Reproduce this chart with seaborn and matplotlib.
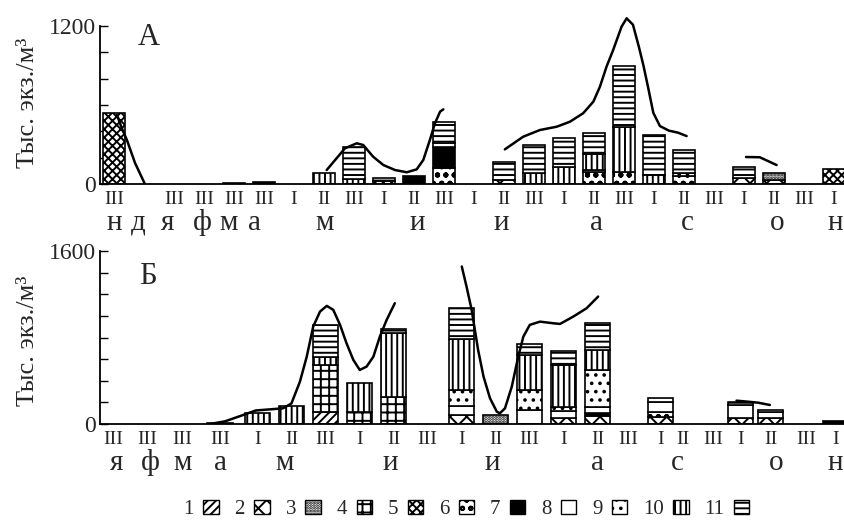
import matplotlib
matplotlib.use('Agg')
import matplotlib.pyplot as plt
import matplotlib.patches as mpatches
import seaborn as sns

# legend groups 1..11: hatch and face colour
group_ids = ['1', '2', '3', '4', '5', '6', '7', '8', '9', '10', '11']
group_hatch = ['////', 'xx', '......', '++', 'xxxx', 'oo', '', '', '..', '|||', '---']
group_face = ['white'] * 6 + ['black'] + ['white'] * 4

# ---- panel A ----
a_tick_pos = [0] + list(range(2, 25))
a_tick_lab = ['III'] * 5 + ['I', 'II', 'III'] * 6 + ['I']
a_month_pos = [0, 0.8, 1.8, 2.93, 3.83, 4.67, 7.03, 10.1, 12.9, 16.1, 19.1, 22.1, 24.05]
a_month_lab = ['н', 'д', 'я', 'ф', 'м', 'а', 'м', 'и', 'и', 'а', 'с', 'о', 'н']
a_bar_pos = [0, 4, 5, 7, 8, 9, 10, 11, 13, 14, 15, 16, 17, 18, 19, 21, 22, 24]
#            1   2   3  4    5    6    7  8   9   10   11
a_stacks = [[0,  0,  0, 0, 539,   0,   0, 0,  0,   0,   0],
            [0,  0,  0, 0,   0,   0,   8, 0,  0,   0,   0],
            [0,  0,  0, 0,   0,   0,  15, 0,  0,   0,   0],
            [0,  0,  0, 0,   0,   0,   0, 0,  0,  84,   0],
            [0,  0,  0, 0,   0,   0,   0, 0,  0,  40, 241],
            [0,  0,  0, 0,   0,   0,   0, 0, 20,   0,  25],
            [0,  0,  0, 0,   0,   0,  61, 0,  0,   0,   0],
            [0,  0,  0, 0,   0, 121, 159, 0, 30,   0, 161],
            [0, 30,  0, 0,   0,   0,   0, 0,  0,   0, 137],
            [0,  0,  0, 0,   0,   0,   0, 0,  0,  80, 216],
            [0,  0,  0, 0,   0,   0,   0, 0,  0, 130, 219],
            [0,  0,  0, 0,   0,  90,   0, 0, 20, 120, 157],
            [0,  0,  0, 0,   0,  91,   0, 0,  0, 342, 463],
            [0,  0,  0, 0,   0,   0,   0, 0,  0,  70, 302],
            [0,  0,  0, 0,   0,  60,   0, 0, 20,   0, 178],
            [0, 45,  0, 0,   0,   0,   0, 0,  0,   0,  84],
            [0, 30, 54, 0,   0,   0,   0, 0,  0,   0,   0],
            [0,  0,  0, 0, 114,   0,   0, 0,  0,   0,   0]]
a_curve_x = [[0.1, 0.25, 0.43, 0.7, 1.03],
             [7.09, 7.7, 8.09, 8.31, 8.64, 8.98, 9.37, 9.76, 10.09, 10.31, 10.53, 10.7, 10.87, 10.98],
             [13.03, 13.64, 14.2, 14.76, 15.2, 15.64, 15.98, 16.2, 16.42, 16.64, 16.92, 17.09,
              17.3, 17.5, 17.65, 17.8, 17.98, 18.2, 18.5, 18.8, 19.09],
             [21.07, 21.53, 22.09]]
a_curve_y = [[524, 430, 334, 160, 0],
             [106, 271, 309, 296, 207, 144, 106, 89, 111, 182, 334, 461, 549, 567],
             [263, 359, 410, 435, 473, 537, 625, 739, 891, 1017, 1194, 1258,
              1210, 1040, 900, 740, 540, 440, 405, 390, 364],
             [205, 203, 144]]

# ---- panel Б ----
b_tick_pos = [0, 1, 2.05, 3.15, 4.25, 5.25, 6.25, 7.25, 8.25, 9.25, 10.25, 11.25, 12.25,
              13.25, 14.25, 15.15, 16.1, 16.75, 17.65, 18.45, 19.35, 20.4, 21.25]
b_tick_lab = ['III'] * 4 + ['I', 'II', 'III'] * 6 + ['I']
b_month_pos = [0.1, 1.09, 2.06, 3.15, 5.06, 8.15, 11.15, 14.26, 16.6, 19.5, 21.24]
b_month_lab = ['я', 'ф', 'м', 'а', 'м', 'и', 'и', 'а', 'с', 'о', 'н']
b_bar_tick = [3, 4, 5, 6, 7, 8, 10, 11, 12, 13, 14, 16, 19, 20, 22]
#            1   2   3    4  5   6   7    8    9   10   11
b_stacks = [[0,  0,  0,   0, 0,  0, 12,   0,   0,   0,   0],
            [0,  0,  0,   0, 0,  0,  0,   0,   0, 100,   0],
            [0,  0,  0,   0, 0,  0,  0,   0,   0, 167,   0],
            [111, 0, 0, 435, 0,  0,  0,   0,   0,  74, 297],
            [0,  0,  0, 111, 0,  0,  0,   0,   0, 269,   0],
            [0,  0,  0, 250, 0,  0,  0,   0,   0, 593,  37],
            [0, 83,  0,   0, 0,  0,  0,  84, 148, 472, 287],
            [0,  0, 83,   0, 0,  0,  0,   0,   0,   0,   0],
            [0,  0,  0,   0, 0,  0,  0, 130, 185, 324, 101],
            [0, 55,  0,   0, 0,  0,  0,  62,  40, 389, 130],
            [0, 70,  0,   0, 0,  0, 30,  55, 345, 185, 248],
            [0, 65,  0,   0, 0, 46,  0,  93,   0,   0,  37],
            [0, 60,  0,   0, 0,  0,  0, 115,   0,   0,  30],
            [0, 60,  0,   0, 0,  0,  0,  55,   0,   0,  15],
            [0,  0,  0,   0, 0,  0, 28,   0,   0,   0,   0]]
b_curve_x = [[2.85, 3.3, 3.8, 4.2, 4.6, 5.0, 5.25, 5.5, 5.7, 5.89, 6.09, 6.29, 6.48, 6.68,
              6.87, 7.07, 7.26, 7.46, 7.66, 7.85, 8.05, 8.29],
             [10.26, 10.4, 10.55, 10.74, 10.9, 11.09, 11.29, 11.38, 11.53, 11.73, 11.92,
              12.07, 12.26, 12.56, 12.95, 13.15, 13.54, 13.93, 14.27],
             [18.34, 18.69, 18.98, 19.32]]
b_curve_y = [[0, 25, 80, 125, 135, 145, 190, 392, 623, 901, 1040, 1093, 1056, 917,
              747, 593, 500, 531, 623, 808, 963, 1117],
             [1457, 1271, 1056, 685, 438, 238, 114, 99, 145, 345, 623,
              808, 917, 947, 932, 926, 994, 1071, 1179],
             [216, 206, 197, 176]]

ylabel = 'Тыс. экз./м³'

sns.set_theme(style='ticks')
plt.rcParams['font.family'] = ['Liberation Serif', 'DejaVu Serif']
plt.rcParams['hatch.linewidth'] = 1.4
plt.rcParams['hatch.color'] = 'black'


def draw_panel(ax, bar_x, stacks, curve_x, curve_y, ticks, tick_lab, months, month_lab,
               ymax, ylim, xlim, letter, letter_xy):
    for x, row in zip(bar_x, stacks):
        bottom = 0
        for k, v in enumerate(row):
            if v == 0:
                continue
            ax.bar(x, v, width=0.74, bottom=bottom, color=group_face[k],
                   hatch=group_hatch[k], edgecolor='black', linewidth=1.2, zorder=2)
            bottom += v
    for cx, cy in zip(curve_x, curve_y):
        sns.lineplot(x=cx, y=cy, ax=ax, color='black', linewidth=1.8,
                     sort=False, estimator=None, zorder=3)
    ax.set_xlim(*xlim)
    ax.set_ylim(0, ylim)
    ax.set_xticks(ticks, tick_lab)
    ax.tick_params(axis='x', length=0, pad=5, labelsize=14)
    yt = list(range(0, ymax + 1, 200))
    ax.set_yticks(yt, ['0'] + [''] * (len(yt) - 2) + [str(ymax)])
    ax.tick_params(axis='y', direction='in', length=6, width=1, pad=3, labelsize=17,
                   color='black')
    sns.despine(ax=ax)
    ax.spines['left'].set_bounds(0, ymax)
    for sp in ('left', 'bottom'):
        ax.spines[sp].set_color('black')
        ax.spines[sp].set_linewidth(1.3)
    for m, lab in zip(months, month_lab):
        ax.annotate(lab, xy=(m, 0), xycoords=('data', 'axes fraction'),
                    xytext=(0, -33), textcoords='offset points',
                    ha='center', va='baseline', fontsize=21)
    ax.set_ylabel(ylabel, fontsize=19)
    ax.yaxis.set_label_coords(-0.082, 0.48)
    ax.text(letter_xy[0], letter_xy[1], letter, transform=ax.transAxes,
            fontsize=22, ha='center', va='center')
    ax.set_facecolor('white')


fig = plt.figure(figsize=(8.45, 5.21), dpi=100)
ax_a = fig.add_axes([0.11834, 0.64683, 0.88166, 0.3261])
ax_b = fig.add_axes([0.11834, 0.18618, 0.88166, 0.3340])

draw_panel(ax_a, a_bar_pos, a_stacks, a_curve_x, a_curve_y, a_tick_pos, a_tick_lab,
           a_month_pos, a_month_lab, 1200, 1290, (-0.467, 24.37), 'А', (0.066, 0.865))
draw_panel(ax_b, [b_tick_pos[i] for i in b_bar_tick], b_stacks, b_curve_x, b_curve_y,
           b_tick_pos, b_tick_lab, b_month_pos, b_month_lab, 1600, 1610,
           (-0.38, 21.53), 'Б', (0.064, 0.85))

handles = [mpatches.Patch(facecolor=f, edgecolor='black', hatch=h, linewidth=1)
           for f, h in zip(group_face, group_hatch)]
fig.legend(handles, group_ids, loc='center', bbox_to_anchor=(0.552, 0.022), ncol=11,
           frameon=False, markerfirst=False, handlelength=0.75, handleheight=0.65,
           handletextpad=0.45, columnspacing=0.75, fontsize=15, borderaxespad=0)

fig.savefig('out.png', dpi=100, facecolor='white')
